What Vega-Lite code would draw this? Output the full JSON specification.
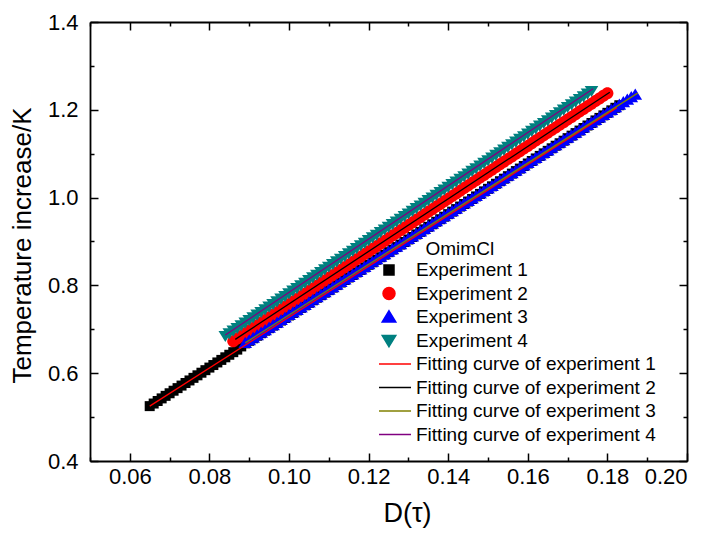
{
  "$schema": "https://vega.github.io/schema/vega-lite/v6.json",
  "width": 597,
  "height": 439,
  "autosize": "none",
  "padding": {"left": 90, "top": 22, "right": 27, "bottom": 76},
  "background": "white",
  "config": {
    "view": {"stroke": null},
    "axis": {
      "domainColor": "#000000", "domainWidth": 1.8,
      "tickColor": "#000000", "tickWidth": 1.5,
      "labelFont": "Liberation Sans", "labelFontSize": 22, "labelColor": "#000000",
      "titleFont": "Liberation Sans", "titleFontSize": 27, "titleFontWeight": "normal", "titleColor": "#000000",
      "grid": false
    },
    "legend": {
      "labelFont": "Liberation Sans", "labelFontSize": 19, "labelColor": "#000000", "labelLimit": 0,
      "titleFont": "Liberation Sans", "titleFontSize": 19, "titleFontWeight": "normal", "titleColor": "#000000", "titleLimit": 0
    }
  },
  "datasets": {
    "pts": [
      {"series":"Experiment 1","D":0.065,"T":0.5250},{"series":"Experiment 1","D":0.067,"T":0.5367},{"series":"Experiment 1","D":0.069,"T":0.5484},{"series":"Experiment 1","D":0.071,"T":0.5601},{"series":"Experiment 1","D":0.073,"T":0.5718},{"series":"Experiment 1","D":0.075,"T":0.5835},{"series":"Experiment 1","D":0.077,"T":0.5952},{"series":"Experiment 1","D":0.079,"T":0.6069},{"series":"Experiment 1","D":0.081,"T":0.6186},{"series":"Experiment 1","D":0.083,"T":0.6303},
      {"series":"Experiment 1","D":0.085,"T":0.6420},{"series":"Experiment 1","D":0.087,"T":0.6537},{"series":"Experiment 1","D":0.089,"T":0.6680},{"series":"Experiment 1","D":0.091,"T":0.6795},{"series":"Experiment 1","D":0.093,"T":0.6911},{"series":"Experiment 1","D":0.095,"T":0.7026},{"series":"Experiment 1","D":0.097,"T":0.7142},{"series":"Experiment 1","D":0.099,"T":0.7257},{"series":"Experiment 1","D":0.101,"T":0.7372},{"series":"Experiment 1","D":0.103,"T":0.7488},
      {"series":"Experiment 1","D":0.105,"T":0.7603},{"series":"Experiment 1","D":0.107,"T":0.7719},{"series":"Experiment 1","D":0.109,"T":0.7834},{"series":"Experiment 1","D":0.111,"T":0.7949},{"series":"Experiment 1","D":0.113,"T":0.8065},{"series":"Experiment 1","D":0.115,"T":0.8180},{"series":"Experiment 1","D":0.117,"T":0.8296},{"series":"Experiment 1","D":0.119,"T":0.8411},{"series":"Experiment 1","D":0.121,"T":0.8526},{"series":"Experiment 1","D":0.123,"T":0.8642},
      {"series":"Experiment 1","D":0.125,"T":0.8757},{"series":"Experiment 1","D":0.127,"T":0.8873},{"series":"Experiment 1","D":0.129,"T":0.8988},{"series":"Experiment 1","D":0.131,"T":0.9103},{"series":"Experiment 1","D":0.133,"T":0.9219},{"series":"Experiment 1","D":0.135,"T":0.9334},{"series":"Experiment 1","D":0.137,"T":0.9450},{"series":"Experiment 1","D":0.139,"T":0.9565},{"series":"Experiment 1","D":0.141,"T":0.9680},{"series":"Experiment 1","D":0.143,"T":0.9796},
      {"series":"Experiment 1","D":0.145,"T":0.9911},{"series":"Experiment 1","D":0.147,"T":1.0027},{"series":"Experiment 1","D":0.149,"T":1.0142},{"series":"Experiment 1","D":0.151,"T":1.0257},{"series":"Experiment 1","D":0.153,"T":1.0373},{"series":"Experiment 1","D":0.155,"T":1.0488},{"series":"Experiment 1","D":0.157,"T":1.0604},{"series":"Experiment 1","D":0.159,"T":1.0719},{"series":"Experiment 1","D":0.161,"T":1.0834},{"series":"Experiment 1","D":0.163,"T":1.0950},
      {"series":"Experiment 1","D":0.165,"T":1.1065},{"series":"Experiment 1","D":0.167,"T":1.1181},{"series":"Experiment 1","D":0.169,"T":1.1296},{"series":"Experiment 1","D":0.171,"T":1.1411},{"series":"Experiment 1","D":0.173,"T":1.1527},{"series":"Experiment 1","D":0.175,"T":1.1642},{"series":"Experiment 1","D":0.177,"T":1.1758},{"series":"Experiment 1","D":0.179,"T":1.1873},{"series":"Experiment 1","D":0.181,"T":1.1988},{"series":"Experiment 1","D":0.183,"T":1.2104},
      {"series":"Experiment 1","D":0.066,"T":0.5309},{"series":"Experiment 1","D":0.068,"T":0.5426},{"series":"Experiment 1","D":0.070,"T":0.5543},{"series":"Experiment 1","D":0.072,"T":0.5660},{"series":"Experiment 1","D":0.074,"T":0.5777},{"series":"Experiment 1","D":0.076,"T":0.5894},{"series":"Experiment 1","D":0.078,"T":0.6011},{"series":"Experiment 1","D":0.080,"T":0.6128},{"series":"Experiment 1","D":0.082,"T":0.6245},{"series":"Experiment 1","D":0.084,"T":0.6362},
      {"series":"Experiment 1","D":0.086,"T":0.6479},{"series":"Experiment 1","D":0.088,"T":0.6610},{"series":"Experiment 1","D":0.090,"T":0.6738},{"series":"Experiment 1","D":0.092,"T":0.6853},{"series":"Experiment 1","D":0.094,"T":0.6969},{"series":"Experiment 1","D":0.096,"T":0.7084},{"series":"Experiment 1","D":0.098,"T":0.7199},{"series":"Experiment 1","D":0.100,"T":0.7315},{"series":"Experiment 1","D":0.102,"T":0.7430},{"series":"Experiment 1","D":0.104,"T":0.7546},
      {"series":"Experiment 1","D":0.106,"T":0.7661},{"series":"Experiment 1","D":0.108,"T":0.7776},{"series":"Experiment 1","D":0.110,"T":0.7892},{"series":"Experiment 1","D":0.112,"T":0.8007},{"series":"Experiment 1","D":0.114,"T":0.8123},{"series":"Experiment 1","D":0.116,"T":0.8238},{"series":"Experiment 1","D":0.118,"T":0.8353},{"series":"Experiment 1","D":0.120,"T":0.8469},{"series":"Experiment 1","D":0.122,"T":0.8584},{"series":"Experiment 1","D":0.124,"T":0.8700},
      {"series":"Experiment 1","D":0.126,"T":0.8815},{"series":"Experiment 1","D":0.128,"T":0.8930},{"series":"Experiment 1","D":0.130,"T":0.9046},{"series":"Experiment 1","D":0.132,"T":0.9161},{"series":"Experiment 1","D":0.134,"T":0.9277},{"series":"Experiment 1","D":0.136,"T":0.9392},{"series":"Experiment 1","D":0.138,"T":0.9507},{"series":"Experiment 1","D":0.140,"T":0.9623},{"series":"Experiment 1","D":0.142,"T":0.9738},{"series":"Experiment 1","D":0.144,"T":0.9854},
      {"series":"Experiment 1","D":0.146,"T":0.9969},{"series":"Experiment 1","D":0.148,"T":1.0084},{"series":"Experiment 1","D":0.150,"T":1.0200},{"series":"Experiment 1","D":0.152,"T":1.0315},{"series":"Experiment 1","D":0.154,"T":1.0431},{"series":"Experiment 1","D":0.156,"T":1.0546},{"series":"Experiment 1","D":0.158,"T":1.0661},{"series":"Experiment 1","D":0.160,"T":1.0777},{"series":"Experiment 1","D":0.162,"T":1.0892},{"series":"Experiment 1","D":0.164,"T":1.1008},
      {"series":"Experiment 1","D":0.166,"T":1.1123},{"series":"Experiment 1","D":0.168,"T":1.1238},{"series":"Experiment 1","D":0.170,"T":1.1354},{"series":"Experiment 1","D":0.172,"T":1.1469},{"series":"Experiment 1","D":0.174,"T":1.1585},{"series":"Experiment 1","D":0.176,"T":1.1700},{"series":"Experiment 1","D":0.178,"T":1.1815},{"series":"Experiment 1","D":0.180,"T":1.1931},{"series":"Experiment 1","D":0.182,"T":1.2046},

      {"series":"Experiment 2","D":0.086,"T":0.6730},{"series":"Experiment 2","D":0.088,"T":0.6850},{"series":"Experiment 2","D":0.090,"T":0.6970},{"series":"Experiment 2","D":0.092,"T":0.7091},{"series":"Experiment 2","D":0.094,"T":0.7211},{"series":"Experiment 2","D":0.096,"T":0.7331},{"series":"Experiment 2","D":0.098,"T":0.7451},{"series":"Experiment 2","D":0.100,"T":0.7571},{"series":"Experiment 2","D":0.102,"T":0.7692},{"series":"Experiment 2","D":0.104,"T":0.7812},
      {"series":"Experiment 2","D":0.106,"T":0.7932},{"series":"Experiment 2","D":0.108,"T":0.8052},{"series":"Experiment 2","D":0.110,"T":0.8172},{"series":"Experiment 2","D":0.112,"T":0.8293},{"series":"Experiment 2","D":0.114,"T":0.8413},{"series":"Experiment 2","D":0.116,"T":0.8533},{"series":"Experiment 2","D":0.118,"T":0.8653},{"series":"Experiment 2","D":0.120,"T":0.8773},{"series":"Experiment 2","D":0.122,"T":0.8894},{"series":"Experiment 2","D":0.124,"T":0.9014},
      {"series":"Experiment 2","D":0.126,"T":0.9134},{"series":"Experiment 2","D":0.128,"T":0.9254},{"series":"Experiment 2","D":0.130,"T":0.9374},{"series":"Experiment 2","D":0.132,"T":0.9495},{"series":"Experiment 2","D":0.134,"T":0.9615},{"series":"Experiment 2","D":0.136,"T":0.9735},{"series":"Experiment 2","D":0.138,"T":0.9855},{"series":"Experiment 2","D":0.140,"T":0.9975},{"series":"Experiment 2","D":0.142,"T":1.0096},{"series":"Experiment 2","D":0.144,"T":1.0216},
      {"series":"Experiment 2","D":0.146,"T":1.0336},{"series":"Experiment 2","D":0.148,"T":1.0456},{"series":"Experiment 2","D":0.150,"T":1.0576},{"series":"Experiment 2","D":0.152,"T":1.0697},{"series":"Experiment 2","D":0.154,"T":1.0817},{"series":"Experiment 2","D":0.156,"T":1.0937},{"series":"Experiment 2","D":0.158,"T":1.1057},{"series":"Experiment 2","D":0.160,"T":1.1177},{"series":"Experiment 2","D":0.162,"T":1.1298},{"series":"Experiment 2","D":0.164,"T":1.1418},
      {"series":"Experiment 2","D":0.166,"T":1.1538},{"series":"Experiment 2","D":0.168,"T":1.1658},{"series":"Experiment 2","D":0.170,"T":1.1778},{"series":"Experiment 2","D":0.172,"T":1.1899},{"series":"Experiment 2","D":0.174,"T":1.2019},{"series":"Experiment 2","D":0.176,"T":1.2139},{"series":"Experiment 2","D":0.178,"T":1.2259},{"series":"Experiment 2","D":0.180,"T":1.2379},
      {"series":"Experiment 2","D":0.087,"T":0.6790},{"series":"Experiment 2","D":0.089,"T":0.6910},{"series":"Experiment 2","D":0.091,"T":0.7030},{"series":"Experiment 2","D":0.093,"T":0.7151},{"series":"Experiment 2","D":0.095,"T":0.7271},{"series":"Experiment 2","D":0.097,"T":0.7391},{"series":"Experiment 2","D":0.099,"T":0.7511},{"series":"Experiment 2","D":0.101,"T":0.7631},{"series":"Experiment 2","D":0.103,"T":0.7752},{"series":"Experiment 2","D":0.105,"T":0.7872},
      {"series":"Experiment 2","D":0.107,"T":0.7992},{"series":"Experiment 2","D":0.109,"T":0.8112},{"series":"Experiment 2","D":0.111,"T":0.8232},{"series":"Experiment 2","D":0.113,"T":0.8353},{"series":"Experiment 2","D":0.115,"T":0.8473},{"series":"Experiment 2","D":0.117,"T":0.8593},{"series":"Experiment 2","D":0.119,"T":0.8713},{"series":"Experiment 2","D":0.121,"T":0.8833},{"series":"Experiment 2","D":0.123,"T":0.8954},{"series":"Experiment 2","D":0.125,"T":0.9074},
      {"series":"Experiment 2","D":0.127,"T":0.9194},{"series":"Experiment 2","D":0.129,"T":0.9314},{"series":"Experiment 2","D":0.131,"T":0.9434},{"series":"Experiment 2","D":0.133,"T":0.9555},{"series":"Experiment 2","D":0.135,"T":0.9675},{"series":"Experiment 2","D":0.137,"T":0.9795},{"series":"Experiment 2","D":0.139,"T":0.9915},{"series":"Experiment 2","D":0.141,"T":1.0035},{"series":"Experiment 2","D":0.143,"T":1.0156},{"series":"Experiment 2","D":0.145,"T":1.0276},
      {"series":"Experiment 2","D":0.147,"T":1.0396},{"series":"Experiment 2","D":0.149,"T":1.0516},{"series":"Experiment 2","D":0.151,"T":1.0636},{"series":"Experiment 2","D":0.153,"T":1.0757},{"series":"Experiment 2","D":0.155,"T":1.0877},{"series":"Experiment 2","D":0.157,"T":1.0997},{"series":"Experiment 2","D":0.159,"T":1.1117},{"series":"Experiment 2","D":0.161,"T":1.1237},{"series":"Experiment 2","D":0.163,"T":1.1358},{"series":"Experiment 2","D":0.165,"T":1.1478},
      {"series":"Experiment 2","D":0.167,"T":1.1598},{"series":"Experiment 2","D":0.169,"T":1.1718},{"series":"Experiment 2","D":0.171,"T":1.1838},{"series":"Experiment 2","D":0.173,"T":1.1959},{"series":"Experiment 2","D":0.175,"T":1.2079},{"series":"Experiment 2","D":0.177,"T":1.2199},{"series":"Experiment 2","D":0.179,"T":1.2319},

      {"series":"Experiment 3","D":0.089,"T":0.6690},{"series":"Experiment 3","D":0.091,"T":0.6805},{"series":"Experiment 3","D":0.093,"T":0.6921},{"series":"Experiment 3","D":0.095,"T":0.7036},{"series":"Experiment 3","D":0.097,"T":0.7152},{"series":"Experiment 3","D":0.099,"T":0.7267},{"series":"Experiment 3","D":0.101,"T":0.7382},{"series":"Experiment 3","D":0.103,"T":0.7498},{"series":"Experiment 3","D":0.105,"T":0.7613},{"series":"Experiment 3","D":0.107,"T":0.7729},
      {"series":"Experiment 3","D":0.109,"T":0.7844},{"series":"Experiment 3","D":0.111,"T":0.7959},{"series":"Experiment 3","D":0.113,"T":0.8075},{"series":"Experiment 3","D":0.115,"T":0.8190},{"series":"Experiment 3","D":0.117,"T":0.8306},{"series":"Experiment 3","D":0.119,"T":0.8421},{"series":"Experiment 3","D":0.121,"T":0.8536},{"series":"Experiment 3","D":0.123,"T":0.8652},{"series":"Experiment 3","D":0.125,"T":0.8767},{"series":"Experiment 3","D":0.127,"T":0.8883},
      {"series":"Experiment 3","D":0.129,"T":0.8998},{"series":"Experiment 3","D":0.131,"T":0.9113},{"series":"Experiment 3","D":0.133,"T":0.9229},{"series":"Experiment 3","D":0.135,"T":0.9344},{"series":"Experiment 3","D":0.137,"T":0.9460},{"series":"Experiment 3","D":0.139,"T":0.9575},{"series":"Experiment 3","D":0.141,"T":0.9690},{"series":"Experiment 3","D":0.143,"T":0.9806},{"series":"Experiment 3","D":0.145,"T":0.9921},{"series":"Experiment 3","D":0.147,"T":1.0037},
      {"series":"Experiment 3","D":0.149,"T":1.0152},{"series":"Experiment 3","D":0.151,"T":1.0267},{"series":"Experiment 3","D":0.153,"T":1.0383},{"series":"Experiment 3","D":0.155,"T":1.0498},{"series":"Experiment 3","D":0.157,"T":1.0614},{"series":"Experiment 3","D":0.159,"T":1.0729},{"series":"Experiment 3","D":0.161,"T":1.0844},{"series":"Experiment 3","D":0.163,"T":1.0960},{"series":"Experiment 3","D":0.165,"T":1.1075},{"series":"Experiment 3","D":0.167,"T":1.1191},
      {"series":"Experiment 3","D":0.169,"T":1.1306},{"series":"Experiment 3","D":0.171,"T":1.1421},{"series":"Experiment 3","D":0.173,"T":1.1537},{"series":"Experiment 3","D":0.175,"T":1.1652},{"series":"Experiment 3","D":0.177,"T":1.1768},{"series":"Experiment 3","D":0.179,"T":1.1883},{"series":"Experiment 3","D":0.181,"T":1.1998},{"series":"Experiment 3","D":0.183,"T":1.2114},{"series":"Experiment 3","D":0.185,"T":1.2229},{"series":"Experiment 3","D":0.187,"T":1.2345},
      {"series":"Experiment 3","D":0.090,"T":0.6748},{"series":"Experiment 3","D":0.092,"T":0.6863},{"series":"Experiment 3","D":0.094,"T":0.6979},{"series":"Experiment 3","D":0.096,"T":0.7094},{"series":"Experiment 3","D":0.098,"T":0.7209},{"series":"Experiment 3","D":0.100,"T":0.7325},{"series":"Experiment 3","D":0.102,"T":0.7440},{"series":"Experiment 3","D":0.104,"T":0.7556},{"series":"Experiment 3","D":0.106,"T":0.7671},{"series":"Experiment 3","D":0.108,"T":0.7786},
      {"series":"Experiment 3","D":0.110,"T":0.7902},{"series":"Experiment 3","D":0.112,"T":0.8017},{"series":"Experiment 3","D":0.114,"T":0.8133},{"series":"Experiment 3","D":0.116,"T":0.8248},{"series":"Experiment 3","D":0.118,"T":0.8363},{"series":"Experiment 3","D":0.120,"T":0.8479},{"series":"Experiment 3","D":0.122,"T":0.8594},{"series":"Experiment 3","D":0.124,"T":0.8710},{"series":"Experiment 3","D":0.126,"T":0.8825},{"series":"Experiment 3","D":0.128,"T":0.8940},
      {"series":"Experiment 3","D":0.130,"T":0.9056},{"series":"Experiment 3","D":0.132,"T":0.9171},{"series":"Experiment 3","D":0.134,"T":0.9287},{"series":"Experiment 3","D":0.136,"T":0.9402},{"series":"Experiment 3","D":0.138,"T":0.9517},{"series":"Experiment 3","D":0.140,"T":0.9633},{"series":"Experiment 3","D":0.142,"T":0.9748},{"series":"Experiment 3","D":0.144,"T":0.9864},{"series":"Experiment 3","D":0.146,"T":0.9979},{"series":"Experiment 3","D":0.148,"T":1.0094},
      {"series":"Experiment 3","D":0.150,"T":1.0210},{"series":"Experiment 3","D":0.152,"T":1.0325},{"series":"Experiment 3","D":0.154,"T":1.0441},{"series":"Experiment 3","D":0.156,"T":1.0556},{"series":"Experiment 3","D":0.158,"T":1.0671},{"series":"Experiment 3","D":0.160,"T":1.0787},{"series":"Experiment 3","D":0.162,"T":1.0902},{"series":"Experiment 3","D":0.164,"T":1.1018},{"series":"Experiment 3","D":0.166,"T":1.1133},{"series":"Experiment 3","D":0.168,"T":1.1248},
      {"series":"Experiment 3","D":0.170,"T":1.1364},{"series":"Experiment 3","D":0.172,"T":1.1479},{"series":"Experiment 3","D":0.174,"T":1.1595},{"series":"Experiment 3","D":0.176,"T":1.1710},{"series":"Experiment 3","D":0.178,"T":1.1825},{"series":"Experiment 3","D":0.180,"T":1.1941},{"series":"Experiment 3","D":0.182,"T":1.2056},{"series":"Experiment 3","D":0.184,"T":1.2172},{"series":"Experiment 3","D":0.186,"T":1.2287},

      {"series":"Experiment 4","D":0.084,"T":0.6850},{"series":"Experiment 4","D":0.086,"T":0.6971},{"series":"Experiment 4","D":0.088,"T":0.7093},{"series":"Experiment 4","D":0.090,"T":0.7214},{"series":"Experiment 4","D":0.092,"T":0.7335},{"series":"Experiment 4","D":0.094,"T":0.7457},{"series":"Experiment 4","D":0.096,"T":0.7578},{"series":"Experiment 4","D":0.098,"T":0.7699},{"series":"Experiment 4","D":0.100,"T":0.7820},{"series":"Experiment 4","D":0.102,"T":0.7942},
      {"series":"Experiment 4","D":0.104,"T":0.8063},{"series":"Experiment 4","D":0.106,"T":0.8184},{"series":"Experiment 4","D":0.108,"T":0.8306},{"series":"Experiment 4","D":0.110,"T":0.8427},{"series":"Experiment 4","D":0.112,"T":0.8548},{"series":"Experiment 4","D":0.114,"T":0.8670},{"series":"Experiment 4","D":0.116,"T":0.8791},{"series":"Experiment 4","D":0.118,"T":0.8912},{"series":"Experiment 4","D":0.120,"T":0.9033},{"series":"Experiment 4","D":0.122,"T":0.9155},
      {"series":"Experiment 4","D":0.124,"T":0.9276},{"series":"Experiment 4","D":0.126,"T":0.9397},{"series":"Experiment 4","D":0.128,"T":0.9519},{"series":"Experiment 4","D":0.130,"T":0.9640},{"series":"Experiment 4","D":0.132,"T":0.9761},{"series":"Experiment 4","D":0.134,"T":0.9883},{"series":"Experiment 4","D":0.136,"T":1.0004},{"series":"Experiment 4","D":0.138,"T":1.0125},{"series":"Experiment 4","D":0.140,"T":1.0246},{"series":"Experiment 4","D":0.142,"T":1.0368},
      {"series":"Experiment 4","D":0.144,"T":1.0489},{"series":"Experiment 4","D":0.146,"T":1.0610},{"series":"Experiment 4","D":0.148,"T":1.0732},{"series":"Experiment 4","D":0.150,"T":1.0853},{"series":"Experiment 4","D":0.152,"T":1.0974},{"series":"Experiment 4","D":0.154,"T":1.1096},{"series":"Experiment 4","D":0.156,"T":1.1217},{"series":"Experiment 4","D":0.158,"T":1.1338},{"series":"Experiment 4","D":0.160,"T":1.1459},{"series":"Experiment 4","D":0.162,"T":1.1581},
      {"series":"Experiment 4","D":0.164,"T":1.1702},{"series":"Experiment 4","D":0.166,"T":1.1823},{"series":"Experiment 4","D":0.168,"T":1.1945},{"series":"Experiment 4","D":0.170,"T":1.2066},{"series":"Experiment 4","D":0.172,"T":1.2187},{"series":"Experiment 4","D":0.174,"T":1.2309},{"series":"Experiment 4","D":0.176,"T":1.2430},
      {"series":"Experiment 4","D":0.085,"T":0.6911},{"series":"Experiment 4","D":0.087,"T":0.7032},{"series":"Experiment 4","D":0.089,"T":0.7153},{"series":"Experiment 4","D":0.091,"T":0.7275},{"series":"Experiment 4","D":0.093,"T":0.7396},{"series":"Experiment 4","D":0.095,"T":0.7517},{"series":"Experiment 4","D":0.097,"T":0.7639},{"series":"Experiment 4","D":0.099,"T":0.7760},{"series":"Experiment 4","D":0.101,"T":0.7881},{"series":"Experiment 4","D":0.103,"T":0.8002},
      {"series":"Experiment 4","D":0.105,"T":0.8124},{"series":"Experiment 4","D":0.107,"T":0.8245},{"series":"Experiment 4","D":0.109,"T":0.8366},{"series":"Experiment 4","D":0.111,"T":0.8488},{"series":"Experiment 4","D":0.113,"T":0.8609},{"series":"Experiment 4","D":0.115,"T":0.8730},{"series":"Experiment 4","D":0.117,"T":0.8852},{"series":"Experiment 4","D":0.119,"T":0.8973},{"series":"Experiment 4","D":0.121,"T":0.9094},{"series":"Experiment 4","D":0.123,"T":0.9215},
      {"series":"Experiment 4","D":0.125,"T":0.9337},{"series":"Experiment 4","D":0.127,"T":0.9458},{"series":"Experiment 4","D":0.129,"T":0.9579},{"series":"Experiment 4","D":0.131,"T":0.9701},{"series":"Experiment 4","D":0.133,"T":0.9822},{"series":"Experiment 4","D":0.135,"T":0.9943},{"series":"Experiment 4","D":0.137,"T":1.0064},{"series":"Experiment 4","D":0.139,"T":1.0186},{"series":"Experiment 4","D":0.141,"T":1.0307},{"series":"Experiment 4","D":0.143,"T":1.0428},
      {"series":"Experiment 4","D":0.145,"T":1.0550},{"series":"Experiment 4","D":0.147,"T":1.0671},{"series":"Experiment 4","D":0.149,"T":1.0792},{"series":"Experiment 4","D":0.151,"T":1.0914},{"series":"Experiment 4","D":0.153,"T":1.1035},{"series":"Experiment 4","D":0.155,"T":1.1156},{"series":"Experiment 4","D":0.157,"T":1.1277},{"series":"Experiment 4","D":0.159,"T":1.1399},{"series":"Experiment 4","D":0.161,"T":1.1520},{"series":"Experiment 4","D":0.163,"T":1.1641},
      {"series":"Experiment 4","D":0.165,"T":1.1763},{"series":"Experiment 4","D":0.167,"T":1.1884},{"series":"Experiment 4","D":0.169,"T":1.2005},{"series":"Experiment 4","D":0.171,"T":1.2126},{"series":"Experiment 4","D":0.173,"T":1.2248},{"series":"Experiment 4","D":0.175,"T":1.2369}
    ],
    "fits": [
      {"series":"Fitting curve of experiment 1","D":0.065,"T":0.525},
      {"series":"Fitting curve of experiment 1","D":0.1824,"T":1.205},
      {"series":"Fitting curve of experiment 2","D":0.0865,"T":0.677},
      {"series":"Fitting curve of experiment 2","D":0.1806,"T":1.240},
      {"series":"Fitting curve of experiment 3","D":0.089,"T":0.669},
      {"series":"Fitting curve of experiment 3","D":0.1876,"T":1.238},
      {"series":"Fitting curve of experiment 4","D":0.084,"T":0.687},
      {"series":"Fitting curve of experiment 4","D":0.1764,"T":1.248}
    ]
  },
  "resolve": {"axis": {"x": "independent", "y": "independent"}},
  "layer": [
    {
      "data": {"name": "pts"},
      "mark": {"type": "point", "filled": true, "opacity": 1, "size": 400, "strokeWidth": 0},
      "encoding": {
        "x": {
          "field": "D", "type": "quantitative",
          "scale": {"domain": [0.05, 0.2], "nice": false, "zero": false},
          "axis": {
            "orient": "bottom", "title": "D(τ)", "titleX": 317,
            "values": [0.05,0.06,0.07,0.08,0.09,0.1,0.11,0.12,0.13,0.14,0.15,0.16,0.17,0.18,0.19,0.2],
            "labelExpr": "round(datum.value*100)%2==0 ? format(datum.value,'.2f') : ''",
            "tickSize": {"condition": {"test": "round(datum.value*100)%2==0", "value": -8}, "value": -4},
            "labelPadding": 13, "titlePadding": 13
          }
        },
        "y": {
          "field": "T", "type": "quantitative",
          "scale": {"domain": [0.4, 1.4], "nice": false, "zero": false},
          "axis": {
            "orient": "left", "title": "Temperature increase/K", "titleY": 223, "titleFontSize": 26,
            "values": [0.4,0.5,0.6,0.7,0.8,0.9,1.0,1.1,1.2,1.3,1.4],
            "labelExpr": "round(datum.value*10)%2==0 ? format(datum.value,'.1f') : ''",
            "tickSize": {"condition": {"test": "round(datum.value*10)%2==0", "value": -8}, "value": -4},
            "labelPadding": 20, "titlePadding": 12
          }
        },
        "color": {
          "field": "series", "type": "nominal",
          "scale": {
            "domain": ["Experiment 1","Experiment 2","Experiment 3","Experiment 4","Fitting curve of experiment 1","Fitting curve of experiment 2","Fitting curve of experiment 3","Fitting curve of experiment 4"],
            "range": ["#000000","#FF0000","#0000FF","#008080","#FF0000","#000000","#808000","#800080"]
          },
          "legend": {
            "orient": "none", "legendX": 288, "legendY": 218,
            "title": "\u200b\u00a0\u00a0\u00a0\u00a0\u00a0\u00a0\u00a0\u00a0\u00a0OmimCl", "padding": 0, "symbolSize": 400, "labelOffset": 16, "rowPadding": 2.5, "titlePadding": 0,
            "encode": {
              "symbols": {"update": {
                "fill": {"scale": "color", "field": "value"},
                "stroke": {"scale": "color", "field": "value"},
                "strokeWidth": {"value": 1.3},
                "size": {"value": 400},
                "shape": {"scale": "shape", "field": "value"},
                "opacity": {"value": 1}
              }}
            }
          }
        },
        "shape": {
          "field": "series", "type": "nominal",
          "scale": {
            "domain": ["Experiment 1","Experiment 2","Experiment 3","Experiment 4","Fitting curve of experiment 1","Fitting curve of experiment 2","Fitting curve of experiment 3","Fitting curve of experiment 4"],
            "range": [
              "M-0.5,-0.5H0.5V0.5H-0.5Z",
              "M-0.6,0A0.6,0.6,0,1,0,0.6,0A0.6,0.6,0,1,0,-0.6,0Z",
              "M0,-0.62L0.68,0.5L-0.68,0.5Z",
              "M0,0.62L0.68,-0.5L-0.68,-0.5Z",
              "M-1,0H2.2",
              "M-1,0H2.2",
              "M-1,0H2.2",
              "M-1,0H2.2"
            ]
          }
        }
      }
    },
    {
      "data": {"name": "fits"},
      "mark": {"type": "line", "strokeWidth": 1.3},
      "encoding": {
        "x": {
          "field": "D", "type": "quantitative",
          "axis": {
            "orient": "top", "title": null, "labels": false,
            "values": [0.05,0.06,0.07,0.08,0.09,0.1,0.11,0.12,0.13,0.14,0.15,0.16,0.17,0.18,0.19,0.2],
            "tickSize": {"condition": {"test": "round(datum.value*100)%2==0", "value": -8}, "value": -4}
          }
        },
        "y": {
          "field": "T", "type": "quantitative",
          "axis": {
            "orient": "right", "title": null, "labels": false,
            "values": [0.4,0.5,0.6,0.7,0.8,0.9,1.0,1.1,1.2,1.3,1.4],
            "tickSize": {"condition": {"test": "round(datum.value*10)%2==0", "value": -8}, "value": -4}
          }
        },
        "color": {"field": "series", "type": "nominal"}
      }
    }
  ]
}
